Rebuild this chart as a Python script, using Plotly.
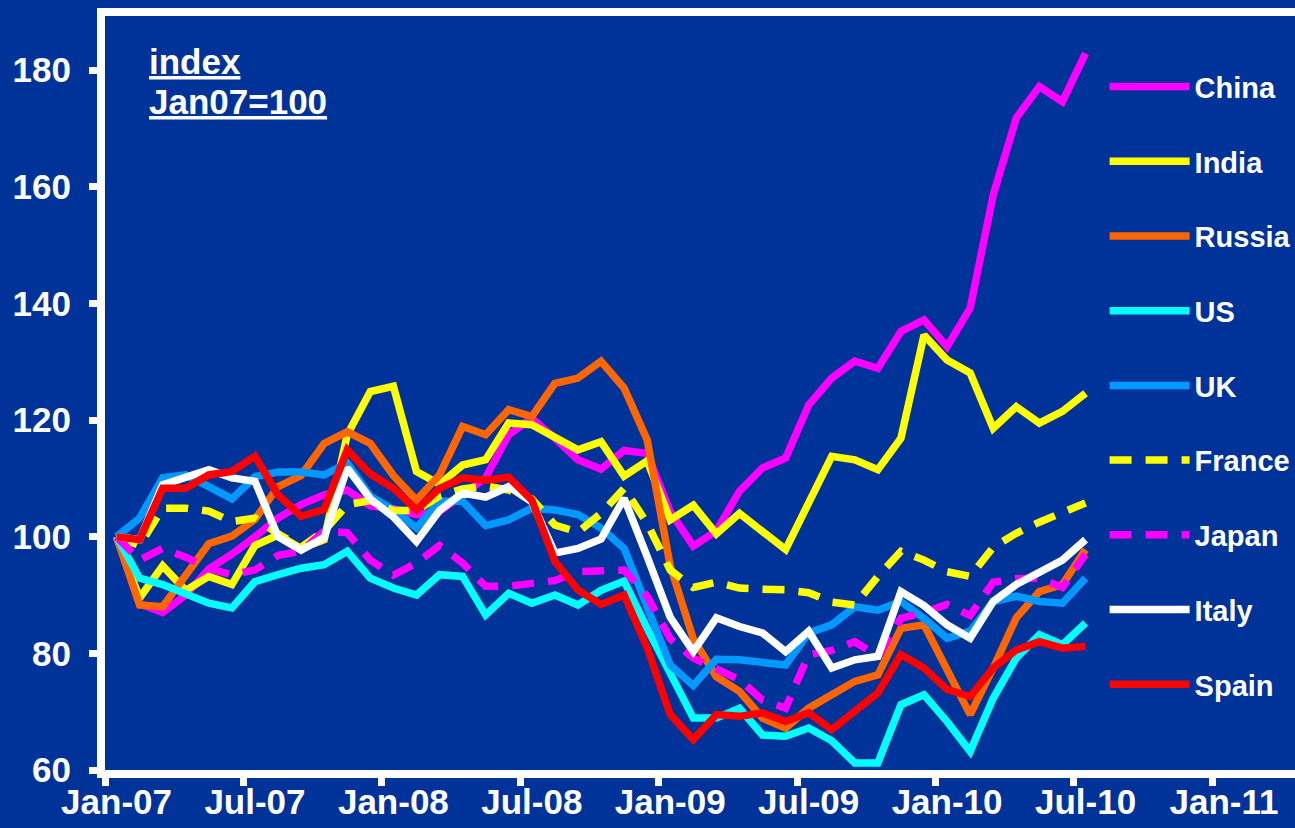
import pandas as pd
import plotly.graph_objects as go

# Monthly categories, Jan-07 .. Jul-10
months = pd.date_range("2007-01-01", "2010-07-01", freq="MS").strftime("%b-%y").tolist()

tick_labels = ["Jan-07", "Jul-07", "Jan-08", "Jul-08", "Jan-09", "Jul-09", "Jan-10", "Jul-10", "Jan-11"]
y_ticks = [60, 80, 100, 120, 140, 160, 180]

china = [100, 88.5, 87, 90, 94.5, 97, 100, 103.2, 105.5, 107.2, 108, 105.3, 104.8, 103.8, 104.3,
         107.2, 110.1, 117.5, 120.3, 116.9, 113.2, 111.6, 114.8, 114.3, 104.3, 98.4, 101, 107.8,
         111.8, 113.5, 122.6, 127.2, 130.1, 128.9, 135.2, 137.2, 132.6, 139.2, 158.6, 171.8,
         177.2, 174.6, 182.9]
india = [100, 89.5, 95, 90.8, 93.2, 91.8, 98.5, 100.3, 98, 99.5, 117.5, 124.9, 125.8, 111.2, 109,
         112.3, 113.2, 119.5, 119.2, 117.2, 114.9, 116.3, 110.4, 113, 102.9, 105.4, 100.5, 104,
         101, 97.8, 105.8, 113.8, 113.2, 111.5, 116.9, 134.6, 130.3, 128.1, 118.6, 122.3, 119.5,
         121.5, 124.6]
russia = [100, 88.3, 88, 93.5, 98.8, 100.1, 103, 108.6, 110.5, 116, 118, 116, 110.5, 106.3, 110.6,
          118.9, 117.5, 121.8, 120.6, 126.3, 127.2, 130.1, 125.5, 116.6, 95, 82.5, 76, 73.5, 68.9,
          67.2, 70.6, 72.9, 75.2, 76.3, 84.3, 84.9, 76.9, 69.5, 77.5, 86.1, 90.6, 91.8, 97.8]
us = [100, 92.9, 91.8, 90.3, 88.6, 87.8, 92.3, 93.5, 94.6, 95.2, 97.5, 92.9, 91.2, 90, 93.5, 93.2,
      86.6, 90.3, 88.6, 90, 88.3, 90.8, 92.4, 84.3, 76.6, 68.9, 68.9, 70.6, 66, 65.8, 67.2, 65,
      61.2, 61.2, 71.2, 72.9, 68.3, 63.2, 72.3, 79.2, 83.2, 81.5, 85.2]
uk = [100, 103.2, 110.1, 110.6, 108.6, 106.5, 110.3, 111.1, 111.1, 110.6, 112.6, 107, 104.6,
      101.5, 106.1, 106.1, 101.9, 102.9, 104.9, 104.6, 103.8, 101.5, 98, 88.3, 78, 74.5, 79,
      78.9, 78.6, 78, 83.5, 84.9, 88, 87.4, 88.9, 86, 82.6, 83.8, 88.9, 89.8, 88.9, 88.6, 92.9]
france = [100, 98.5, 104.9, 104.9, 104.4, 102.6, 103.2, 100.5, 98.2, 101, 105.5, 106.2, 104.5,
          104.5, 107, 108.2, 108.7, 108, 106.5, 102, 100.8, 104, 108.3, 102.3, 94.3, 91.3, 92.2,
          91.2, 91, 90.9, 90.4, 88.8, 88.3, 93.2, 97.5, 96, 94, 93.2, 98.2, 100.6, 102.5, 104.3,
          105.8]
japan = [100, 96, 98, 96.5, 94.5, 93.5, 94.3, 96.8, 97.5, 101, 100.7, 96, 93.4, 95.5, 98.5, 95.5,
         91.5, 91.5, 92, 92.5, 94, 94.1, 94.3, 89.8, 82.5, 79.2, 77.2, 75.5, 72, 70.6, 79.8, 80.5,
         82, 79.5, 86, 87, 88.4, 86.5, 92.2, 92.8, 92.9, 91.3, 97]
italy = [100, 99.5, 108.9, 110.1, 111.5, 110.1, 109.5, 100, 97.7, 99.9, 111.8, 106.5, 103.4, 99.2,
         104.5, 107.5, 106.8, 108.6, 106, 97.2, 98, 99.6, 106.6, 96.6, 86.2, 80.3, 86.1, 84.6,
         83.5, 80.3, 83.8, 77.5, 78.9, 79.5, 90.6, 88.2, 84.9, 82.6, 88.9, 91.8, 94, 96, 99.5]
spain = [100, 99.5, 108.3, 108.3, 110.6, 111.2, 113.8, 107.2, 103.5, 104.7, 114.9, 110.8, 108.3,
         104.6, 108.3, 110.1, 109.7, 110.2, 106.3, 95.8, 90.9, 88.4, 90, 81, 69.5, 65.2, 69.5,
         69.2, 69.8, 68.3, 69.8, 66.9, 70.1, 73.2, 79.8, 77.5, 73.8, 72.6, 77.5, 80.6, 82, 80.9,
         81.2]

series = [
    ("China", china, "#FF00FF", "solid"),
    ("India", india, "#FFFF00", "solid"),
    ("Russia", russia, "#FF6600", "solid"),
    ("US", us, "#00FFFF", "solid"),
    ("UK", uk, "#0099FF", "solid"),
    ("France", france, "#FFFF00", "22px,14px"),
    ("Japan", japan, "#FF00FF", "22px,14px"),
    ("Italy", italy, "#FFFFFF", "solid"),
    ("Spain", spain, "#FF0000", "solid"),
]

BG = "#003399"
FONT = "Liberation Sans, Arial, sans-serif"

x_idx = list(range(len(months)))
label_pos = [months.index(m) if m in months else 48 for m in tick_labels]

fig = go.Figure()
for name, vals, color, dash in series:
    fig.add_trace(go.Scatter(
        x=x_idx, y=vals, name=name, mode="lines", legendgroup=name,
        customdata=months, hovertemplate="%{customdata}: %{y}<extra>" + name + "</extra>",
        line=dict(color=color, width=7.5, dash=dash),
    ))

fig.update_layout(
    width=1295, height=828,
    paper_bgcolor=BG, plot_bgcolor=BG,
    margin=dict(l=105, r=0, t=16, b=58, autoexpand=False),
    font=dict(family=FONT, color="white"),
    showlegend=True,
    legend=dict(
        x=0.840, y=0.940, xanchor="left", yanchor="top",
        bgcolor="rgba(0,0,0,0)", borderwidth=0,
        font=dict(family=FONT, size=29, color="white", weight="bold"),
        tracegroupgap=34, itemwidth=80,
    ),
    xaxis=dict(
        range=[-0.5, 51.08], showgrid=False, zeroline=False,
        showline=True, linecolor="white", linewidth=8, mirror=True,
        tickvals=label_pos, ticktext=tick_labels, ticks="",
        ticklabelstandoff=-6,
        tickfont=dict(family=FONT, size=35, color="white", weight="bold"),
        minor=dict(tickvals=[p - 0.5 for p in label_pos], ticks="outside",
                   ticklen=8, tickwidth=7, tickcolor="white"),
    ),
    yaxis=dict(
        range=[60, 189.3], showgrid=False, zeroline=False,
        showline=True, linecolor="white", linewidth=8, mirror=False,
        tickvals=y_ticks, ticks="outside", ticklen=8, tickwidth=7, tickcolor="white",
        ticklabelstandoff=11,
        tickfont=dict(family=FONT, size=35, color="white", weight="bold"),
    ),
    annotations=[
        dict(text="<u>index</u>", x=0.0353, y=0.939, xref="paper", yref="paper",
             xanchor="left", yanchor="middle", showarrow=False,
             font=dict(family=FONT, size=35, color="white", weight="bold")),
        dict(text="<u>Jan07=100</u>", x=0.0353, y=0.887, xref="paper", yref="paper",
             xanchor="left", yanchor="middle", showarrow=False,
             font=dict(family=FONT, size=35, color="white", weight="bold")),
    ],
)

fig.write_html(
    "out.html",
    config={"displayModeBar": False},
    post_script="document.body.style.margin='0';document.body.style.background='" + BG + "';",
)
